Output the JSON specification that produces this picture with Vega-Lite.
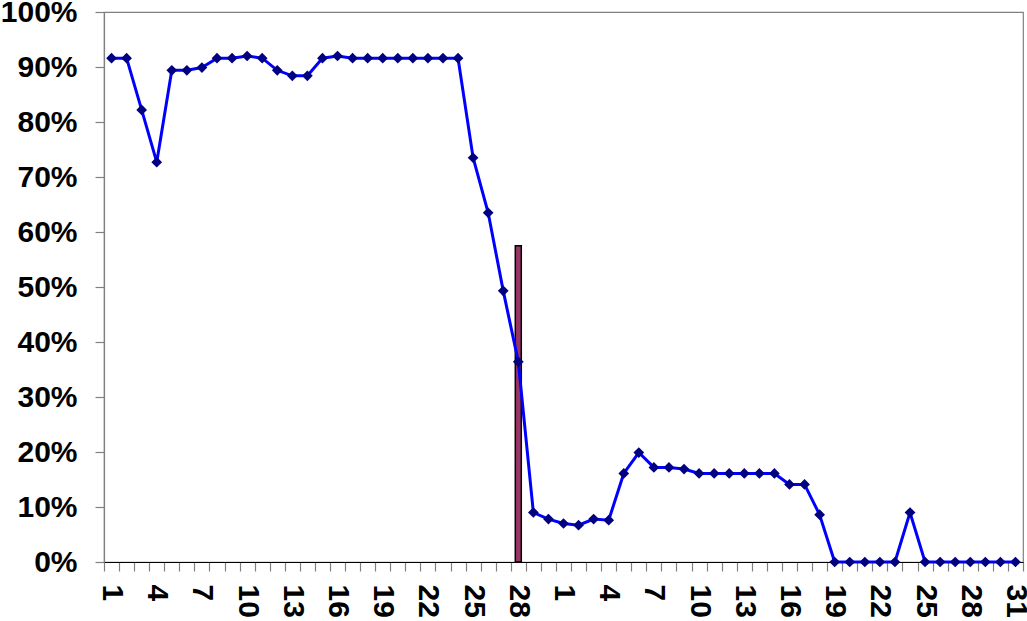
{
  "$schema": "https://vega.github.io/schema/vega-lite/v6.json",
  "width": 919,
  "height": 550,
  "autosize": {"type": "none"},
  "padding": {"left": 104, "top": 12, "right": 4, "bottom": 59},
  "background": "#ffffff",
  "config": {
    "view": {"stroke": "#808080", "strokeWidth": 1.2},
    "axis": {
      "labelFont": "Liberation Sans",
      "labelFontWeight": "bold",
      "labelFontSize": 30,
      "labelColor": "#000000",
      "grid": false,
      "title": null,
      "tickColor": "#808080",
      "tickSize": 9,
      "tickWidth": 1.2
    }
  },
  "datasets": {
    "series": [
      {"i": 0, "month": 1, "day": 1, "v": 0.916},
      {"i": 1, "month": 1, "day": 2, "v": 0.916},
      {"i": 2, "month": 1, "day": 3, "v": 0.822},
      {"i": 3, "month": 1, "day": 4, "v": 0.727},
      {"i": 4, "month": 1, "day": 5, "v": 0.894},
      {"i": 5, "month": 1, "day": 6, "v": 0.894},
      {"i": 6, "month": 1, "day": 7, "v": 0.899},
      {"i": 7, "month": 1, "day": 8, "v": 0.916},
      {"i": 8, "month": 1, "day": 9, "v": 0.916},
      {"i": 9, "month": 1, "day": 10, "v": 0.92},
      {"i": 10, "month": 1, "day": 11, "v": 0.916},
      {"i": 11, "month": 1, "day": 12, "v": 0.894},
      {"i": 12, "month": 1, "day": 13, "v": 0.884},
      {"i": 13, "month": 1, "day": 14, "v": 0.884},
      {"i": 14, "month": 1, "day": 15, "v": 0.916},
      {"i": 15, "month": 1, "day": 16, "v": 0.92},
      {"i": 16, "month": 1, "day": 17, "v": 0.916},
      {"i": 17, "month": 1, "day": 18, "v": 0.916},
      {"i": 18, "month": 1, "day": 19, "v": 0.916},
      {"i": 19, "month": 1, "day": 20, "v": 0.916},
      {"i": 20, "month": 1, "day": 21, "v": 0.916},
      {"i": 21, "month": 1, "day": 22, "v": 0.916},
      {"i": 22, "month": 1, "day": 23, "v": 0.916},
      {"i": 23, "month": 1, "day": 24, "v": 0.916},
      {"i": 24, "month": 1, "day": 25, "v": 0.735},
      {"i": 25, "month": 1, "day": 26, "v": 0.635},
      {"i": 26, "month": 1, "day": 27, "v": 0.493},
      {"i": 27, "month": 1, "day": 28, "v": 0.364},
      {"i": 28, "month": 1, "day": 29, "v": 0.09},
      {"i": 29, "month": 1, "day": 30, "v": 0.078},
      {"i": 30, "month": 2, "day": 1, "v": 0.07},
      {"i": 31, "month": 2, "day": 2, "v": 0.067},
      {"i": 32, "month": 2, "day": 3, "v": 0.078},
      {"i": 33, "month": 2, "day": 4, "v": 0.076},
      {"i": 34, "month": 2, "day": 5, "v": 0.161},
      {"i": 35, "month": 2, "day": 6, "v": 0.199},
      {"i": 36, "month": 2, "day": 7, "v": 0.172},
      {"i": 37, "month": 2, "day": 8, "v": 0.172},
      {"i": 38, "month": 2, "day": 9, "v": 0.169},
      {"i": 39, "month": 2, "day": 10, "v": 0.161},
      {"i": 40, "month": 2, "day": 11, "v": 0.161},
      {"i": 41, "month": 2, "day": 12, "v": 0.161},
      {"i": 42, "month": 2, "day": 13, "v": 0.161},
      {"i": 43, "month": 2, "day": 14, "v": 0.161},
      {"i": 44, "month": 2, "day": 15, "v": 0.161},
      {"i": 45, "month": 2, "day": 16, "v": 0.141},
      {"i": 46, "month": 2, "day": 17, "v": 0.141},
      {"i": 47, "month": 2, "day": 18, "v": 0.086},
      {"i": 48, "month": 2, "day": 19, "v": 0},
      {"i": 49, "month": 2, "day": 20, "v": 0},
      {"i": 50, "month": 2, "day": 21, "v": 0},
      {"i": 51, "month": 2, "day": 22, "v": 0},
      {"i": 52, "month": 2, "day": 23, "v": 0},
      {"i": 53, "month": 2, "day": 24, "v": 0.09},
      {"i": 54, "month": 2, "day": 25, "v": 0},
      {"i": 55, "month": 2, "day": 26, "v": 0},
      {"i": 56, "month": 2, "day": 27, "v": 0},
      {"i": 57, "month": 2, "day": 28, "v": 0},
      {"i": 58, "month": 2, "day": 29, "v": 0},
      {"i": 59, "month": 2, "day": 30, "v": 0},
      {"i": 60, "month": 2, "day": 31, "v": 0}
    ],
    "bar": [
      {"i": 27, "v": 0.575}
    ]
  },
  "encoding": {
    "x": {
      "field": "i",
      "type": "ordinal",
      "sort": "ascending",
      "scale": {"type": "band", "paddingInner": 0, "paddingOuter": 0},
      "axis": {
        "domainColor": "#000000",
        "domainWidth": 1.2,
        "tickBand": "extent",
        "labelAngle": 90,
        "labelPadding": 13,
        "labelOverlap": false,
        "labelExpr": "datum.value % 3 == 0 ? (datum.value < 30 ? '' + (datum.value + 1) : '' + (datum.value - 29)) : ''"
      }
    },
    "y": {
      "field": "v",
      "type": "quantitative",
      "scale": {"domain": [0, 1], "nice": false, "zero": true},
      "axis": {
        "format": ".0%",
        "values": [0, 0.1, 0.2, 0.3, 0.4, 0.5, 0.6, 0.7, 0.8, 0.9, 1],
        "domainColor": "#808080",
        "domainWidth": 1.2,
        "labelPadding": 18
      }
    }
  },
  "layer": [
    {
      "data": {"name": "bar"},
      "mark": {"type": "bar", "size": 6, "color": "#993366", "stroke": "#000000", "strokeWidth": 1.5}
    },
    {
      "data": {"name": "series"},
      "mark": {
        "type": "line",
        "color": "#0000FF",
        "strokeWidth": 3,
        "point": {"shape": "diamond", "filled": true, "color": "#000080", "size": 115, "opacity": 1}
      }
    }
  ]
}
